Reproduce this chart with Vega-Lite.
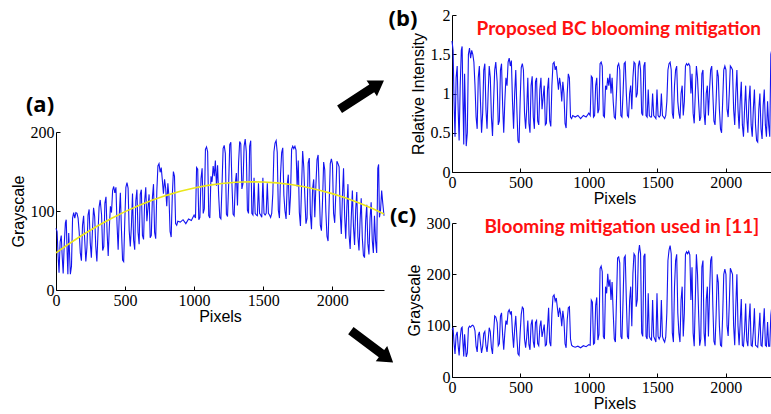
{
"$schema":"https://vega.github.io/schema/vega-lite/v6.json",
"background":"white",
"padding":{"left":10,"top":7,"right":0,"bottom":0},
"config":{
 "view":{"stroke":null},
 "axis":{"grid":false,"domainColor":"#000","tickColor":"#000","tickSize":-4,"labelPadding":6,"labelFont":"Liberation Serif","labelFontSize":16,"labelColor":"#000","labelFlush":false,"labelOverlap":false,"titleFont":"Liberation Sans","titleFontSize":16,"titleFontWeight":"normal","titleColor":"#000"},
 "axisX":{"titlePadding":0,"format":"d"},
 "axisY":{"titlePadding":4}
},
"datasets":{
"a":[{"x":0,"v":78},{"x":8,"v":74},{"x":15,"v":44},{"x":22,"v":22},{"x":30,"v":61},{"x":38,"v":69},{"x":45,"v":42},{"x":52,"v":21},{"x":60,"v":59},{"x":68,"v":85},{"x":74,"v":89},{"x":80,"v":51},{"x":86,"v":20},{"x":92,"v":72},{"x":98,"v":47},{"x":104,"v":20},{"x":112,"v":30},{"x":120,"v":91},{"x":128,"v":98},{"x":136,"v":91},{"x":144,"v":98},{"x":152,"v":97},{"x":160,"v":91},{"x":168,"v":73},{"x":176,"v":47},{"x":184,"v":37},{"x":192,"v":82},{"x":200,"v":94},{"x":208,"v":63},{"x":216,"v":36},{"x":224,"v":54},{"x":232,"v":95},{"x":240,"v":102},{"x":248,"v":60},{"x":256,"v":41},{"x":264,"v":76},{"x":272,"v":104},{"x":280,"v":93},{"x":288,"v":55},{"x":296,"v":36},{"x":304,"v":72},{"x":312,"v":105},{"x":320,"v":114},{"x":330,"v":95},{"x":338,"v":50},{"x":346,"v":55},{"x":354,"v":110},{"x":362,"v":118},{"x":370,"v":73},{"x":378,"v":43},{"x":386,"v":79},{"x":394,"v":106},{"x":402,"v":98},{"x":410,"v":126},{"x":418,"v":131},{"x":426,"v":123},{"x":434,"v":130},{"x":442,"v":83},{"x":450,"v":51},{"x":458,"v":94},{"x":466,"v":123},{"x":474,"v":76},{"x":482,"v":38},{"x":490,"v":36},{"x":498,"v":87},{"x":506,"v":130},{"x":514,"v":136},{"x":522,"v":129},{"x":530,"v":75},{"x":538,"v":55},{"x":546,"v":81},{"x":554,"v":122},{"x":562,"v":63},{"x":570,"v":51},{"x":578,"v":113},{"x":586,"v":127},{"x":594,"v":73},{"x":602,"v":58},{"x":610,"v":121},{"x":618,"v":127},{"x":626,"v":69},{"x":634,"v":64},{"x":642,"v":113},{"x":650,"v":130},{"x":658,"v":87},{"x":666,"v":104},{"x":674,"v":121},{"x":682,"v":66},{"x":690,"v":69},{"x":698,"v":117},{"x":706,"v":134},{"x":714,"v":73},{"x":722,"v":65},{"x":730,"v":125},{"x":738,"v":157},{"x":746,"v":160},{"x":754,"v":149},{"x":762,"v":155},{"x":770,"v":139},{"x":778,"v":122},{"x":786,"v":140},{"x":794,"v":129},{"x":802,"v":106},{"x":810,"v":135},{"x":818,"v":118},{"x":826,"v":74},{"x":834,"v":67},{"x":842,"v":119},{"x":850,"v":150},{"x":858,"v":144},{"x":866,"v":84},{"x":874,"v":82},{"x":882,"v":87},{"x":900,"v":86},{"x":920,"v":89},{"x":940,"v":84},{"x":960,"v":90},{"x":980,"v":88},{"x":1000,"v":95},{"x":1010,"v":91},{"x":1018,"v":155},{"x":1026,"v":153},{"x":1034,"v":89},{"x":1042,"v":92},{"x":1050,"v":141},{"x":1058,"v":154},{"x":1066,"v":97},{"x":1074,"v":103},{"x":1082,"v":178},{"x":1090,"v":181},{"x":1098,"v":175},{"x":1106,"v":94},{"x":1114,"v":91},{"x":1122,"v":144},{"x":1130,"v":137},{"x":1138,"v":157},{"x":1146,"v":144},{"x":1154,"v":164},{"x":1162,"v":132},{"x":1170,"v":158},{"x":1178,"v":119},{"x":1186,"v":92},{"x":1194,"v":90},{"x":1202,"v":132},{"x":1210,"v":179},{"x":1218,"v":183},{"x":1226,"v":173},{"x":1234,"v":96},{"x":1242,"v":93},{"x":1250,"v":133},{"x":1258,"v":184},{"x":1266,"v":187},{"x":1274,"v":134},{"x":1282,"v":96},{"x":1290,"v":94},{"x":1298,"v":134},{"x":1306,"v":148},{"x":1314,"v":107},{"x":1322,"v":161},{"x":1330,"v":188},{"x":1338,"v":185},{"x":1346,"v":128},{"x":1354,"v":135},{"x":1362,"v":182},{"x":1370,"v":191},{"x":1378,"v":175},{"x":1386,"v":101},{"x":1394,"v":97},{"x":1402,"v":182},{"x":1410,"v":189},{"x":1418,"v":97},{"x":1426,"v":95},{"x":1434,"v":142},{"x":1442,"v":97},{"x":1450,"v":95},{"x":1458,"v":94},{"x":1466,"v":135},{"x":1474,"v":97},{"x":1482,"v":95},{"x":1490,"v":92},{"x":1498,"v":142},{"x":1506,"v":97},{"x":1514,"v":95},{"x":1522,"v":97},{"x":1530,"v":135},{"x":1538,"v":97},{"x":1546,"v":95},{"x":1554,"v":92},{"x":1562,"v":97},{"x":1570,"v":122},{"x":1578,"v":175},{"x":1586,"v":186},{"x":1594,"v":189},{"x":1602,"v":174},{"x":1610,"v":101},{"x":1618,"v":91},{"x":1626,"v":147},{"x":1634,"v":174},{"x":1642,"v":180},{"x":1650,"v":120},{"x":1658,"v":100},{"x":1666,"v":90},{"x":1674,"v":133},{"x":1682,"v":146},{"x":1690,"v":95},{"x":1698,"v":119},{"x":1706,"v":178},{"x":1714,"v":182},{"x":1722,"v":179},{"x":1730,"v":182},{"x":1738,"v":177},{"x":1746,"v":131},{"x":1754,"v":164},{"x":1762,"v":98},{"x":1770,"v":81},{"x":1778,"v":130},{"x":1786,"v":176},{"x":1794,"v":156},{"x":1802,"v":117},{"x":1810,"v":84},{"x":1818,"v":91},{"x":1826,"v":161},{"x":1834,"v":167},{"x":1842,"v":96},{"x":1850,"v":77},{"x":1858,"v":128},{"x":1866,"v":140},{"x":1874,"v":92},{"x":1882,"v":133},{"x":1890,"v":165},{"x":1898,"v":171},{"x":1906,"v":126},{"x":1914,"v":82},{"x":1922,"v":75},{"x":1930,"v":113},{"x":1938,"v":162},{"x":1946,"v":152},{"x":1954,"v":99},{"x":1962,"v":68},{"x":1970,"v":62},{"x":1978,"v":111},{"x":1986,"v":160},{"x":1994,"v":166},{"x":2002,"v":159},{"x":2010,"v":97},{"x":2018,"v":85},{"x":2026,"v":121},{"x":2034,"v":163},{"x":2042,"v":160},{"x":2050,"v":156},{"x":2058,"v":96},{"x":2066,"v":71},{"x":2074,"v":119},{"x":2082,"v":154},{"x":2090,"v":94},{"x":2098,"v":65},{"x":2106,"v":105},{"x":2114,"v":134},{"x":2122,"v":70},{"x":2130,"v":52},{"x":2138,"v":92},{"x":2146,"v":126},{"x":2154,"v":80},{"x":2162,"v":57},{"x":2170,"v":102},{"x":2178,"v":124},{"x":2186,"v":67},{"x":2194,"v":50},{"x":2202,"v":89},{"x":2210,"v":116},{"x":2218,"v":66},{"x":2226,"v":44},{"x":2234,"v":41},{"x":2242,"v":87},{"x":2250,"v":108},{"x":2258,"v":59},{"x":2266,"v":45},{"x":2274,"v":91},{"x":2282,"v":111},{"x":2290,"v":63},{"x":2298,"v":47},{"x":2306,"v":94},{"x":2314,"v":62},{"x":2322,"v":47},{"x":2330,"v":154},{"x":2336,"v":159},{"x":2342,"v":92},{"x":2350,"v":101},{"x":2358,"v":126},{"x":2366,"v":110},{"x":2375,"v":94}],
"b":[{"x":0,"v":1.67},{"x":8,"v":1.55},{"x":15,"v":0.9},{"x":22,"v":0.45},{"x":30,"v":1.2},{"x":38,"v":1.35},{"x":45,"v":0.8},{"x":52,"v":0.4},{"x":60,"v":1.1},{"x":68,"v":1.55},{"x":74,"v":1.6},{"x":80,"v":0.9},{"x":86,"v":0.35},{"x":92,"v":1.25},{"x":98,"v":0.8},{"x":104,"v":0.33},{"x":112,"v":0.5},{"x":120,"v":1.5},{"x":128,"v":1.58},{"x":136,"v":1.45},{"x":144,"v":1.55},{"x":152,"v":1.5},{"x":160,"v":1.4},{"x":168,"v":1.1},{"x":176,"v":0.7},{"x":184,"v":0.55},{"x":192,"v":1.2},{"x":200,"v":1.35},{"x":208,"v":0.9},{"x":216,"v":0.5},{"x":224,"v":0.75},{"x":232,"v":1.3},{"x":240,"v":1.38},{"x":248,"v":0.8},{"x":256,"v":0.55},{"x":264,"v":1.0},{"x":272,"v":1.35},{"x":280,"v":1.2},{"x":288,"v":0.7},{"x":296,"v":0.46},{"x":304,"v":0.9},{"x":312,"v":1.3},{"x":320,"v":1.4},{"x":330,"v":1.15},{"x":338,"v":0.6},{"x":346,"v":0.65},{"x":354,"v":1.3},{"x":362,"v":1.38},{"x":370,"v":0.85},{"x":378,"v":0.5},{"x":386,"v":0.9},{"x":394,"v":1.2},{"x":402,"v":1.1},{"x":410,"v":1.4},{"x":418,"v":1.45},{"x":426,"v":1.35},{"x":434,"v":1.42},{"x":442,"v":0.9},{"x":450,"v":0.55},{"x":458,"v":1.0},{"x":466,"v":1.3},{"x":474,"v":0.8},{"x":482,"v":0.4},{"x":490,"v":0.37},{"x":498,"v":0.9},{"x":506,"v":1.33},{"x":514,"v":1.38},{"x":522,"v":1.3},{"x":530,"v":0.75},{"x":538,"v":0.55},{"x":546,"v":0.8},{"x":554,"v":1.2},{"x":562,"v":0.62},{"x":570,"v":0.5},{"x":578,"v":1.1},{"x":586,"v":1.22},{"x":594,"v":0.7},{"x":602,"v":0.55},{"x":610,"v":1.15},{"x":618,"v":1.2},{"x":626,"v":0.65},{"x":634,"v":0.6},{"x":642,"v":1.05},{"x":650,"v":1.2},{"x":658,"v":0.8},{"x":666,"v":0.95},{"x":674,"v":1.1},{"x":682,"v":0.6},{"x":690,"v":0.62},{"x":698,"v":1.05},{"x":706,"v":1.2},{"x":714,"v":0.65},{"x":722,"v":0.58},{"x":730,"v":1.1},{"x":738,"v":1.38},{"x":746,"v":1.4},{"x":754,"v":1.3},{"x":762,"v":1.35},{"x":770,"v":1.2},{"x":778,"v":1.05},{"x":786,"v":1.2},{"x":794,"v":1.1},{"x":802,"v":0.9},{"x":810,"v":1.15},{"x":818,"v":1.0},{"x":826,"v":0.62},{"x":834,"v":0.56},{"x":842,"v":1.0},{"x":850,"v":1.25},{"x":858,"v":1.2},{"x":866,"v":0.7},{"x":874,"v":0.68},{"x":882,"v":0.72},{"x":900,"v":0.7},{"x":920,"v":0.72},{"x":940,"v":0.68},{"x":960,"v":0.72},{"x":980,"v":0.7},{"x":1000,"v":0.75},{"x":1010,"v":0.72},{"x":1018,"v":1.22},{"x":1026,"v":1.2},{"x":1034,"v":0.7},{"x":1042,"v":0.72},{"x":1050,"v":1.1},{"x":1058,"v":1.2},{"x":1066,"v":0.75},{"x":1074,"v":0.8},{"x":1082,"v":1.38},{"x":1090,"v":1.4},{"x":1098,"v":1.35},{"x":1106,"v":0.72},{"x":1114,"v":0.7},{"x":1122,"v":1.1},{"x":1130,"v":1.05},{"x":1138,"v":1.2},{"x":1146,"v":1.1},{"x":1154,"v":1.25},{"x":1162,"v":1.0},{"x":1170,"v":1.2},{"x":1178,"v":0.9},{"x":1186,"v":0.7},{"x":1194,"v":0.68},{"x":1202,"v":1.0},{"x":1210,"v":1.35},{"x":1218,"v":1.38},{"x":1226,"v":1.3},{"x":1234,"v":0.72},{"x":1242,"v":0.7},{"x":1250,"v":1.0},{"x":1258,"v":1.38},{"x":1266,"v":1.4},{"x":1274,"v":1.0},{"x":1282,"v":0.72},{"x":1290,"v":0.7},{"x":1298,"v":1.0},{"x":1306,"v":1.1},{"x":1314,"v":0.8},{"x":1322,"v":1.2},{"x":1330,"v":1.4},{"x":1338,"v":1.38},{"x":1346,"v":0.95},{"x":1354,"v":1.0},{"x":1362,"v":1.35},{"x":1370,"v":1.42},{"x":1378,"v":1.3},{"x":1386,"v":0.75},{"x":1394,"v":0.72},{"x":1402,"v":1.35},{"x":1410,"v":1.4},{"x":1418,"v":0.72},{"x":1426,"v":0.7},{"x":1434,"v":1.05},{"x":1442,"v":0.72},{"x":1450,"v":0.7},{"x":1458,"v":0.7},{"x":1466,"v":1.0},{"x":1474,"v":0.72},{"x":1482,"v":0.7},{"x":1490,"v":0.68},{"x":1498,"v":1.05},{"x":1506,"v":0.72},{"x":1514,"v":0.7},{"x":1522,"v":0.72},{"x":1530,"v":1.0},{"x":1538,"v":0.72},{"x":1546,"v":0.7},{"x":1554,"v":0.68},{"x":1562,"v":0.72},{"x":1570,"v":0.9},{"x":1578,"v":1.3},{"x":1586,"v":1.38},{"x":1594,"v":1.4},{"x":1602,"v":1.3},{"x":1610,"v":0.75},{"x":1618,"v":0.68},{"x":1626,"v":1.1},{"x":1634,"v":1.3},{"x":1642,"v":1.35},{"x":1650,"v":0.9},{"x":1658,"v":0.75},{"x":1666,"v":0.68},{"x":1674,"v":1.0},{"x":1682,"v":1.1},{"x":1690,"v":0.72},{"x":1698,"v":0.9},{"x":1706,"v":1.35},{"x":1714,"v":1.38},{"x":1722,"v":1.36},{"x":1730,"v":1.38},{"x":1738,"v":1.35},{"x":1746,"v":1.0},{"x":1754,"v":1.25},{"x":1762,"v":0.75},{"x":1770,"v":0.62},{"x":1778,"v":1.0},{"x":1786,"v":1.35},{"x":1794,"v":1.2},{"x":1802,"v":0.9},{"x":1810,"v":0.65},{"x":1818,"v":0.7},{"x":1826,"v":1.25},{"x":1834,"v":1.3},{"x":1842,"v":0.75},{"x":1850,"v":0.6},{"x":1858,"v":1.0},{"x":1866,"v":1.1},{"x":1874,"v":0.72},{"x":1882,"v":1.05},{"x":1890,"v":1.3},{"x":1898,"v":1.35},{"x":1906,"v":1.0},{"x":1914,"v":0.65},{"x":1922,"v":0.6},{"x":1930,"v":0.9},{"x":1938,"v":1.3},{"x":1946,"v":1.22},{"x":1954,"v":0.8},{"x":1962,"v":0.55},{"x":1970,"v":0.5},{"x":1978,"v":0.9},{"x":1986,"v":1.3},{"x":1994,"v":1.35},{"x":2002,"v":1.3},{"x":2010,"v":0.8},{"x":2018,"v":0.7},{"x":2026,"v":1.0},{"x":2034,"v":1.35},{"x":2042,"v":1.33},{"x":2050,"v":1.3},{"x":2058,"v":0.8},{"x":2066,"v":0.6},{"x":2074,"v":1.0},{"x":2082,"v":1.3},{"x":2090,"v":0.8},{"x":2098,"v":0.55},{"x":2106,"v":0.9},{"x":2114,"v":1.15},{"x":2122,"v":0.6},{"x":2130,"v":0.45},{"x":2138,"v":0.8},{"x":2146,"v":1.1},{"x":2154,"v":0.7},{"x":2162,"v":0.5},{"x":2170,"v":0.9},{"x":2178,"v":1.1},{"x":2186,"v":0.6},{"x":2194,"v":0.45},{"x":2202,"v":0.8},{"x":2210,"v":1.05},{"x":2218,"v":0.6},{"x":2226,"v":0.4},{"x":2234,"v":0.38},{"x":2242,"v":0.8},{"x":2250,"v":1.0},{"x":2258,"v":0.55},{"x":2266,"v":0.42},{"x":2274,"v":0.85},{"x":2282,"v":1.05},{"x":2290,"v":0.6},{"x":2298,"v":0.45},{"x":2306,"v":0.9},{"x":2314,"v":0.6},{"x":2322,"v":0.45},{"x":2330,"v":1.5},{"x":2336,"v":1.55},{"x":2342,"v":0.9},{"x":2350,"v":1.0},{"x":2358,"v":1.25},{"x":2366,"v":1.1},{"x":2375,"v":0.95}],
"c":[{"x":0,"v":92},{"x":8,"v":95},{"x":15,"v":66},{"x":22,"v":45},{"x":30,"v":81},{"x":38,"v":88},{"x":45,"v":61},{"x":52,"v":42},{"x":60,"v":76},{"x":68,"v":95},{"x":74,"v":97},{"x":80,"v":66},{"x":86,"v":40},{"x":92,"v":83},{"x":98,"v":61},{"x":104,"v":39},{"x":112,"v":47},{"x":120,"v":95},{"x":128,"v":99},{"x":136,"v":97},{"x":144,"v":100},{"x":152,"v":101},{"x":160,"v":98},{"x":168,"v":90},{"x":176,"v":60},{"x":184,"v":49},{"x":192,"v":81},{"x":200,"v":88},{"x":208,"v":66},{"x":216,"v":47},{"x":224,"v":59},{"x":232,"v":85},{"x":240,"v":89},{"x":248,"v":61},{"x":256,"v":49},{"x":264,"v":71},{"x":272,"v":96},{"x":280,"v":88},{"x":288,"v":57},{"x":296,"v":45},{"x":304,"v":86},{"x":312,"v":119},{"x":320,"v":117},{"x":330,"v":106},{"x":338,"v":61},{"x":346,"v":65},{"x":354,"v":118},{"x":362,"v":125},{"x":370,"v":82},{"x":378,"v":53},{"x":386,"v":86},{"x":394,"v":110},{"x":402,"v":102},{"x":410,"v":127},{"x":418,"v":131},{"x":426,"v":123},{"x":434,"v":128},{"x":442,"v":86},{"x":450,"v":57},{"x":458,"v":94},{"x":466,"v":119},{"x":474,"v":78},{"x":482,"v":45},{"x":490,"v":42},{"x":498,"v":86},{"x":506,"v":122},{"x":514,"v":136},{"x":522,"v":133},{"x":530,"v":74},{"x":538,"v":57},{"x":546,"v":78},{"x":554,"v":110},{"x":562,"v":63},{"x":570,"v":53},{"x":578,"v":102},{"x":586,"v":112},{"x":594,"v":69},{"x":602,"v":57},{"x":610,"v":106},{"x":618,"v":110},{"x":626,"v":65},{"x":634,"v":61},{"x":642,"v":98},{"x":650,"v":110},{"x":658,"v":78},{"x":666,"v":90},{"x":674,"v":102},{"x":682,"v":61},{"x":690,"v":63},{"x":698,"v":98},{"x":706,"v":135},{"x":714,"v":68},{"x":722,"v":60},{"x":730,"v":123},{"x":738,"v":157},{"x":746,"v":160},{"x":754,"v":148},{"x":762,"v":154},{"x":770,"v":135},{"x":778,"v":117},{"x":786,"v":135},{"x":794,"v":123},{"x":802,"v":99},{"x":810,"v":129},{"x":818,"v":111},{"x":826,"v":65},{"x":834,"v":57},{"x":842,"v":111},{"x":850,"v":135},{"x":858,"v":137},{"x":866,"v":74},{"x":874,"v":62},{"x":882,"v":60},{"x":900,"v":58},{"x":920,"v":60},{"x":940,"v":57},{"x":960,"v":61},{"x":980,"v":59},{"x":1000,"v":63},{"x":1010,"v":62},{"x":1018,"v":150},{"x":1026,"v":146},{"x":1034,"v":64},{"x":1042,"v":66},{"x":1050,"v":140},{"x":1058,"v":155},{"x":1066,"v":72},{"x":1074,"v":83},{"x":1082,"v":211},{"x":1090,"v":216},{"x":1098,"v":205},{"x":1106,"v":79},{"x":1114,"v":74},{"x":1122,"v":176},{"x":1130,"v":163},{"x":1138,"v":201},{"x":1146,"v":176},{"x":1154,"v":190},{"x":1162,"v":150},{"x":1170,"v":185},{"x":1178,"v":125},{"x":1186,"v":74},{"x":1194,"v":68},{"x":1202,"v":150},{"x":1210,"v":232},{"x":1218,"v":234},{"x":1226,"v":222},{"x":1234,"v":79},{"x":1242,"v":74},{"x":1250,"v":150},{"x":1258,"v":232},{"x":1266,"v":236},{"x":1274,"v":150},{"x":1282,"v":79},{"x":1290,"v":74},{"x":1298,"v":150},{"x":1306,"v":176},{"x":1314,"v":99},{"x":1322,"v":201},{"x":1330,"v":240},{"x":1338,"v":236},{"x":1346,"v":137},{"x":1354,"v":150},{"x":1362,"v":239},{"x":1370,"v":257},{"x":1378,"v":240},{"x":1386,"v":86},{"x":1394,"v":79},{"x":1402,"v":235},{"x":1410,"v":240},{"x":1418,"v":79},{"x":1426,"v":74},{"x":1434,"v":163},{"x":1442,"v":79},{"x":1450,"v":74},{"x":1458,"v":72},{"x":1466,"v":150},{"x":1474,"v":79},{"x":1482,"v":74},{"x":1490,"v":68},{"x":1498,"v":163},{"x":1506,"v":79},{"x":1514,"v":74},{"x":1522,"v":79},{"x":1530,"v":150},{"x":1538,"v":79},{"x":1546,"v":72},{"x":1554,"v":68},{"x":1562,"v":78},{"x":1570,"v":125},{"x":1578,"v":227},{"x":1586,"v":247},{"x":1594,"v":256},{"x":1602,"v":240},{"x":1610,"v":86},{"x":1618,"v":68},{"x":1626,"v":176},{"x":1634,"v":227},{"x":1642,"v":239},{"x":1650,"v":125},{"x":1658,"v":86},{"x":1666,"v":68},{"x":1674,"v":150},{"x":1682,"v":176},{"x":1690,"v":79},{"x":1698,"v":125},{"x":1706,"v":239},{"x":1714,"v":244},{"x":1722,"v":240},{"x":1730,"v":245},{"x":1738,"v":238},{"x":1746,"v":150},{"x":1754,"v":214},{"x":1762,"v":86},{"x":1770,"v":60},{"x":1778,"v":150},{"x":1786,"v":239},{"x":1794,"v":201},{"x":1802,"v":125},{"x":1810,"v":61},{"x":1818,"v":74},{"x":1826,"v":214},{"x":1834,"v":227},{"x":1842,"v":86},{"x":1850,"v":60},{"x":1858,"v":150},{"x":1866,"v":176},{"x":1874,"v":79},{"x":1882,"v":163},{"x":1890,"v":227},{"x":1898,"v":235},{"x":1906,"v":140},{"x":1914,"v":70},{"x":1922,"v":62},{"x":1930,"v":120},{"x":1938,"v":200},{"x":1946,"v":184},{"x":1954,"v":100},{"x":1962,"v":62},{"x":1970,"v":60},{"x":1978,"v":120},{"x":1986,"v":200},{"x":1994,"v":210},{"x":2002,"v":200},{"x":2010,"v":100},{"x":2018,"v":80},{"x":2026,"v":140},{"x":2034,"v":212},{"x":2042,"v":206},{"x":2050,"v":200},{"x":2058,"v":100},{"x":2066,"v":62},{"x":2074,"v":140},{"x":2082,"v":200},{"x":2090,"v":100},{"x":2098,"v":62},{"x":2106,"v":107},{"x":2114,"v":152},{"x":2122,"v":62},{"x":2130,"v":60},{"x":2138,"v":89},{"x":2146,"v":143},{"x":2154,"v":71},{"x":2162,"v":60},{"x":2170,"v":107},{"x":2178,"v":143},{"x":2186,"v":62},{"x":2194,"v":60},{"x":2202,"v":89},{"x":2210,"v":134},{"x":2218,"v":62},{"x":2226,"v":60},{"x":2234,"v":58},{"x":2242,"v":89},{"x":2250,"v":125},{"x":2258,"v":62},{"x":2266,"v":60},{"x":2274,"v":98},{"x":2282,"v":134},{"x":2290,"v":62},{"x":2298,"v":60},{"x":2306,"v":107},{"x":2314,"v":60},{"x":2322,"v":60},{"x":2330,"v":120},{"x":2336,"v":135},{"x":2342,"v":105},{"x":2350,"v":110},{"x":2358,"v":140},{"x":2366,"v":130},{"x":2375,"v":115}],
"fit":[{"x":0,"v":47},{"x":100,"v":59.2},{"x":200,"v":70.6},{"x":300,"v":81},{"x":400,"v":90.6},{"x":500,"v":99.2},{"x":600,"v":107},{"x":700,"v":113.9},{"x":800,"v":119.8},{"x":900,"v":124.9},{"x":1000,"v":129.1},{"x":1100,"v":132.4},{"x":1200,"v":134.8},{"x":1300,"v":136.4},{"x":1400,"v":137},{"x":1500,"v":136.7},{"x":1600,"v":135.6},{"x":1700,"v":133.5},{"x":1800,"v":130.6},{"x":1900,"v":126.7},{"x":2000,"v":122},{"x":2100,"v":116.4},{"x":2200,"v":109.8},{"x":2300,"v":102.4},{"x":2375,"v":96.3}]
},
"spacing":-6,
"hconcat":[
 {"bounds":"flush","spacing":0,"vconcat":[
  {"width":328,"height":117,"data":{"values":[{}]},"mark":{"type":"text","text":" "},"encoding":{}},
  {"width":328,"height":158,"layer":[
   {"data":{"name":"a"},"mark":{"type":"line","color":"#1414f0","strokeWidth":1.1},
    "encoding":{"x":{"field":"x","type":"quantitative","scale":{"domain":[0,2375],"nice":false},"axis":{"title":"Pixels","values":[0,500,1000,1500,2000]}},
                "y":{"field":"v","type":"quantitative","scale":{"domain":[0,200],"nice":false},"axis":{"title":"Grayscale","values":[0,50,100,150,200]}}}},
   {"data":{"name":"fit"},"mark":{"type":"line","color":"#ebe61a","strokeWidth":1.6},
    "encoding":{"x":{"field":"x","type":"quantitative"},"y":{"field":"v","type":"quantitative"}}},
   {"data":{"values":[{}]},"mark":{"type":"text","text":"(a)","font":"Open Sans","fontWeight":"bold","fontSize":22,"color":"#000","clip":false},
    "encoding":{"x":{"datum":-116},"y":{"datum":234}}},
   {"data":{"values":[{}]},"mark":{"type":"point","shape":"M -1 -0.17 L 0.45 -0.17 L 0.45 -0.36 L 1 0 L 0.45 0.36 L 0.45 0.17 L -1 0.17 Z","filled":true,"color":"#000","opacity":1,"size":2800,"angle":327,"clip":false},
    "encoding":{"x":{"datum":2214},"y":{"datum":247}}},
   {"data":{"values":[{}]},"mark":{"type":"point","shape":"M -1 -0.17 L 0.45 -0.17 L 0.45 -0.36 L 1 0 L 0.45 0.36 L 0.45 0.17 L -1 0.17 Z","filled":true,"color":"#000","opacity":1,"size":2800,"angle":37,"clip":false},
    "encoding":{"x":{"datum":2288},"y":{"datum":-71.5}}}
  ]}
 ]},
 {"bounds":"flush","spacing":51,"vconcat":[
  {"width":325,"height":157,"layer":[
   {"data":{"name":"b"},"mark":{"type":"line","color":"#1414f0","strokeWidth":1.1},
    "encoding":{"x":{"field":"x","type":"quantitative","scale":{"domain":[0,2375],"nice":false},"axis":{"title":"Pixels","values":[0,500,1000,1500,2000]}},
                "y":{"field":"v","type":"quantitative","scale":{"domain":[0,2],"nice":false},"axis":{"title":"Relative Intensity","tickCount":4,"format":".1~f","labelOverlap":false,"labelBound":false,"labelSeparation":0}}}},
   {"data":{"values":[{}]},"mark":{"type":"text","text":"(b)","font":"Open Sans","fontWeight":"bold","fontSize":22,"color":"#000","clip":false},
    "encoding":{"x":{"datum":-358},"y":{"datum":1.95}}},
   {"data":{"values":[{}]},"mark":{"type":"text","text":"Proposed BC blooming mitigation","font":"Lato","fontWeight":"bold","fontSize":19,"color":"#ff1010","clip":false},
    "encoding":{"x":{"datum":1219},"y":{"datum":1.82}}}
  ]},
  {"width":325,"height":154,"layer":[
   {"data":{"name":"c"},"mark":{"type":"line","color":"#1414f0","strokeWidth":1.1},
    "encoding":{"x":{"field":"x","type":"quantitative","scale":{"domain":[0,2375],"nice":false},"axis":{"title":"Pixels","values":[0,500,1000,1500,2000]}},
                "y":{"field":"v","type":"quantitative","scale":{"domain":[0,300],"nice":false},"axis":{"title":"Grayscale","values":[0,100,200,300]}}}},
   {"data":{"values":[{}]},"mark":{"type":"text","text":"(c)","font":"Open Sans","fontWeight":"bold","fontSize":22,"color":"#000","clip":false},
    "encoding":{"x":{"datum":-358},"y":{"datum":314}}},
   {"data":{"values":[{}]},"mark":{"type":"text","text":"Blooming mitigation used in [11]","font":"Lato","fontWeight":"bold","fontSize":19,"color":"#ff1010","clip":false},
    "encoding":{"x":{"datum":1241},"y":{"datum":292}}}
  ]}
 ]}
]
}
